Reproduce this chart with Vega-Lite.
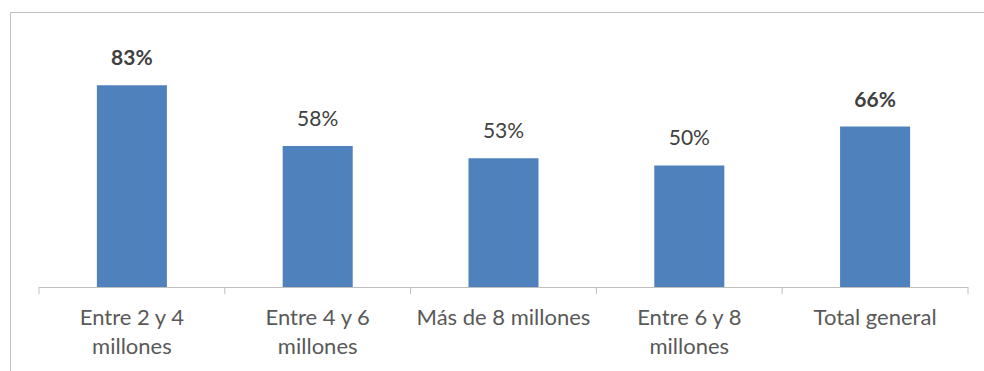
{
  "$schema": "https://vega.github.io/schema/vega-lite/v6.json",
  "width": 974,
  "height": 359,
  "autosize": {"type": "none"},
  "padding": {"left": 10, "top": 12, "right": 0, "bottom": 0},
  "background": "white",
  "config": {"view": {"stroke": "#bfbfbf", "strokeWidth": 1}},
  "data": {
    "values": [
      {"categoria": "Entre 2 y 4 millones", "etiqueta": "Entre 2 y 4\nmillones", "valor": 0.83, "destacado": true},
      {"categoria": "Entre 4 y 6 millones", "etiqueta": "Entre 4 y 6\nmillones", "valor": 0.58, "destacado": false},
      {"categoria": "Más de 8 millones", "etiqueta": "Más de 8 millones", "valor": 0.53, "destacado": false},
      {"categoria": "Entre 6 y 8 millones", "etiqueta": "Entre 6 y 8\nmillones", "valor": 0.50, "destacado": false},
      {"categoria": "Total general", "etiqueta": "Total general", "valor": 0.66, "destacado": true}
    ]
  },
  "encoding": {
    "x": {
      "field": "categoria",
      "type": "nominal",
      "sort": null,
      "scale": {
        "domain": ["Entre 2 y 4 millones", "Entre 4 y 6 millones", "Más de 8 millones", "Entre 6 y 8 millones", "Total general"],
        "range": [29, 958],
        "paddingInner": 0,
        "paddingOuter": 0
      },
      "axis": null
    },
    "y": {
      "field": "valor",
      "type": "quantitative",
      "scale": {"domain": [-0.3457, 1.1317]},
      "axis": null
    }
  },
  "layer": [
    {
      "mark": {"type": "bar", "width": {"band": 1}, "color": "#bfbfbf"},
      "encoding": {"y": {"datum": 0}, "y2": {"datum": -0.0041}}
    },
    {
      "mark": {"type": "rule", "color": "#bfbfbf", "strokeWidth": 1},
      "encoding": {
        "x": {"field": "categoria", "type": "nominal", "bandPosition": 0},
        "y": {"datum": 0},
        "y2": {"datum": -0.0288}
      }
    },
    {
      "transform": [{"filter": "datum.categoria == 'Total general'"}],
      "mark": {"type": "rule", "color": "#bfbfbf", "strokeWidth": 1},
      "encoding": {
        "x": {"field": "categoria", "type": "nominal", "bandPosition": 1},
        "y": {"datum": 0},
        "y2": {"datum": -0.0288}
      }
    },
    {"mark": {"type": "bar", "width": {"band": 0.377}, "color": "#4F81BD"}},
    {
      "transform": [{"filter": "datum.destacado"}],
      "mark": {"type": "text", "font": "Lato", "fontSize": 21, "fontWeight": "bold", "color": "#404040", "baseline": "alphabetic", "dy": -20},
      "encoding": {"text": {"field": "valor", "type": "quantitative", "format": ".0%"}}
    },
    {
      "transform": [{"filter": "!datum.destacado"}],
      "mark": {"type": "text", "font": "Lato", "fontSize": 21, "color": "#404040", "baseline": "alphabetic", "dy": -20},
      "encoding": {"text": {"field": "valor", "type": "quantitative", "format": ".0%"}}
    },
    {
      "mark": {"type": "text", "font": "Lato", "fontSize": 22, "color": "#595959", "baseline": "alphabetic", "dy": 38, "lineBreak": "\n", "lineHeight": 29},
      "encoding": {
        "y": {"datum": 0},
        "text": {"field": "etiqueta", "type": "nominal"}
      }
    }
  ]
}
